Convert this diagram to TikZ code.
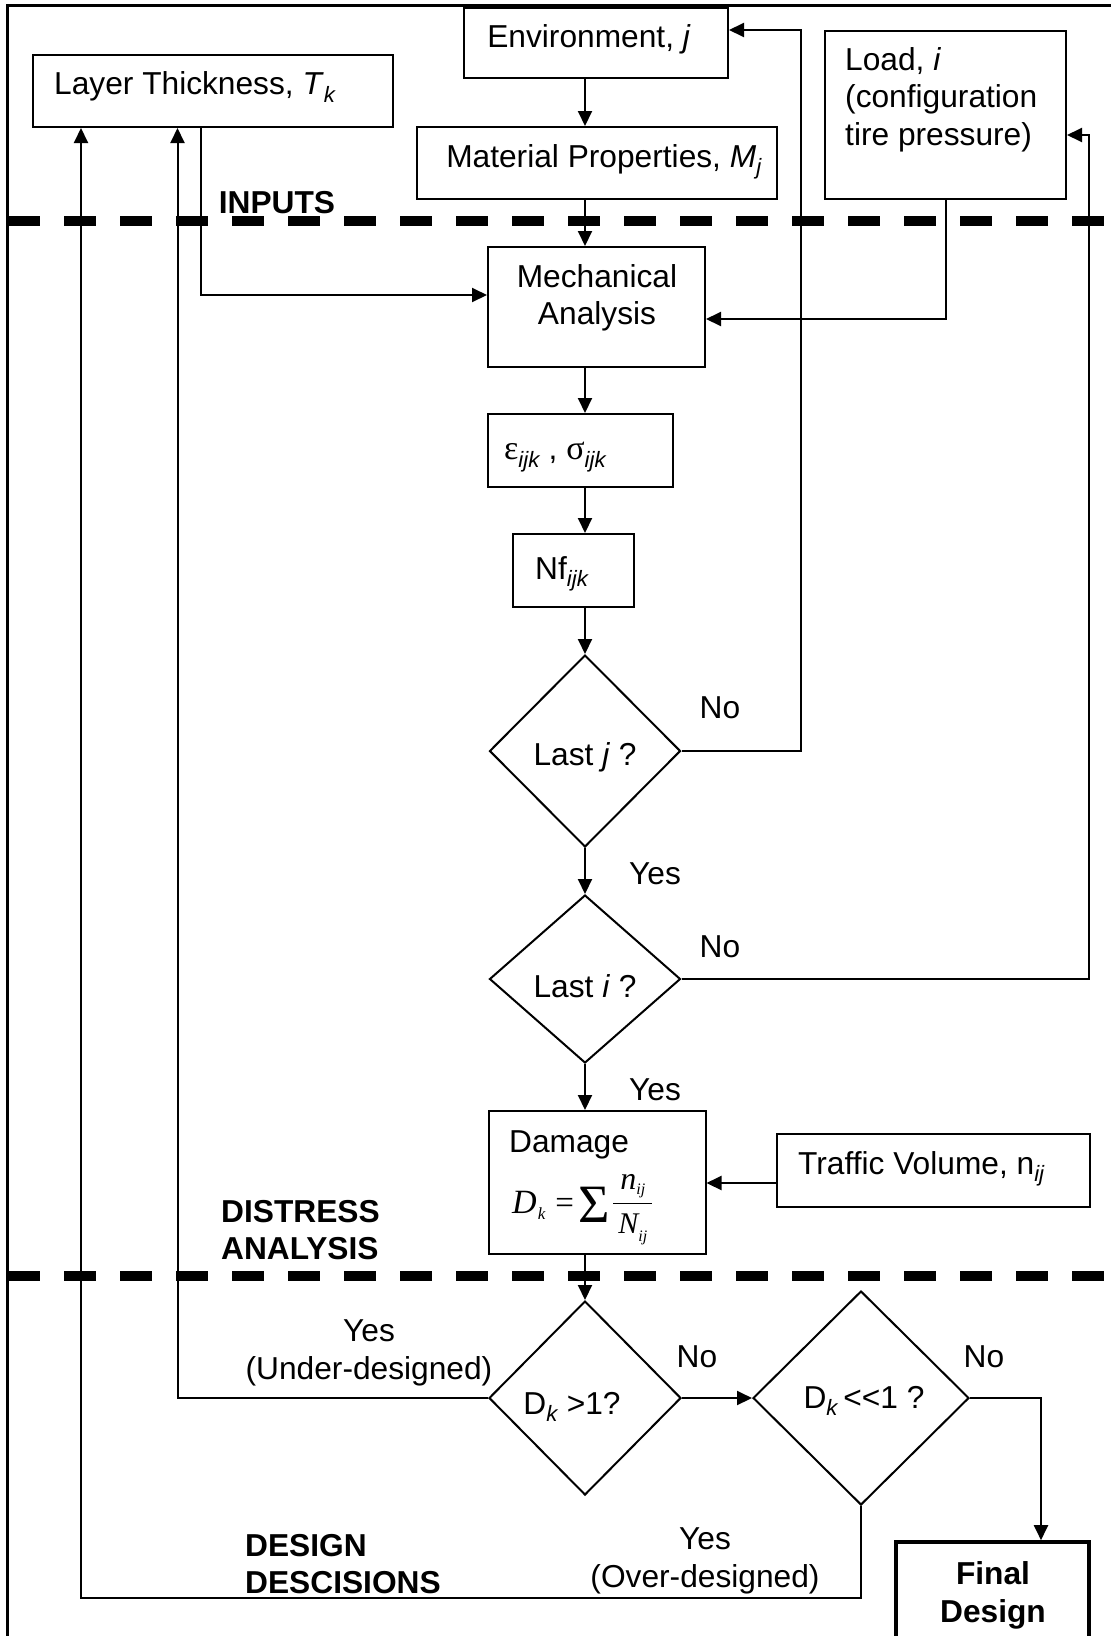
\documentclass[tikz,border=0pt]{standalone}
\usepackage{fontspec}
\setmainfont{Liberation Sans}
\newfontfamily\tnr{Liberation Serif}
\usetikzlibrary{arrows.meta,shapes.geometric}
\newcommand{\dmgfrac}[2]{\vbox{\offinterlineskip\halign{\hfil\kern5pt##\kern5pt\hfil\cr #1\cr\noalign{\kern5pt\hrule height 1.3pt\kern9pt}#2\cr}}}
\begin{document}
\begin{tikzpicture}[x=1pt,y=-1pt,
  every node/.style={font=\fontsize{31.7}{37.5}\selectfont, inner sep=0pt},
  box/.style={draw, rectangle, line width=2pt},
  dia/.style={draw, diamond, line width=2pt, inner sep=0pt},
  arr/.style={-{Triangle[length=15pt,width=14pt]}, line width=2pt},
  sepline/.style={line width=9.3pt, dash pattern=on 32pt off 24pt},
  lbl/.style={font=\fontsize{31.7}{37.5}\selectfont\bfseries, align=left},
  txt/.style={align=center}]
\useasboundingbox (0,0) rectangle (1111,1636);
\clip (0,0) rectangle (1111,1636);

% frame
\draw[line width=2.2pt] (1115,5.5) -- (7.5,5.5) -- (7.5,1640);

% boxes
\node[box, minimum width=264, minimum height=70] (env) at (596,43) {};
\node[box, minimum width=360, minimum height=72] (mat) at (597,163) {};
\node[box, minimum width=360, minimum height=72] (layer) at (213,91) {};
\node[box, minimum width=241, minimum height=168] (load) at (945.5,115) {};
\node[box, minimum width=217, minimum height=120] (mech) at (596.5,307) {};
\node[box, minimum width=185, minimum height=73] (eps) at (580.5,450.5) {};
\node[box, minimum width=121, minimum height=73] (nf) at (573,570.5) {};
\node[dia, minimum width=191, minimum height=192] (lastj) at (585,751) {};
\node[dia, minimum width=191, minimum height=168] (lasti) at (585,979) {};
\node[box, minimum width=217, minimum height=143] (damage) at (597,1182.5) {};
\node[box, minimum width=313, minimum height=73] (traffic) at (933,1170.5) {};
\node[dia, minimum width=192, minimum height=194] (dgt1) at (585,1398) {};
\node[dia, minimum width=216, minimum height=214] (dll1) at (861,1398) {};
\node[draw, rectangle, line width=3.6pt, minimum width=193, minimum height=116] (final) at (992.5,1600) {};

% texts
\node (envT) at (589,39) {Environment, \textit{j}};
\node (matT) at (604,162) {Material Properties, \textit{M}\textsubscript{\itshape j}};
\node[anchor=west] (layT) at (54,87) {Layer Thickness, \textit{T}\textsubscript{\itshape k}};
\node[anchor=north west, align=left] (loadT) at (845,47) {Load, \textit{i}\\(configuration\\tire pressure)};
\node[lbl] (inputs) at (277,203) {INPUTS};
\node[txt] (mechT) at (597,298) {Mechanical\\Analysis};
\node[anchor=west] (epsT) at (504,457) {{\tnr\fontsize{34}{34}\selectfont ε}\textsubscript{\itshape ijk} , {\tnr\fontsize{34}{34}\selectfont σ}\textsubscript{\itshape ijk}};
\node[anchor=west] (nfT) at (535,574) {Nf\textsubscript{\itshape ijk}};
\node (lastjT) at (585,757) {Last \textit{j} ?};
\node (lastiT) at (585,986) {Last \textit{i} ?};
\node (no1) at (720,708) {No};
\node (yes1) at (655,874) {Yes};
\node (no2) at (720,947) {No};
\node (yes2) at (655,1090) {Yes};
\node[anchor=west] (dmgT) at (509,1145) {Damage};
\node[anchor=base west] (dmgF) at (512,1213) {\tnr
  \hbox{\fontsize{34}{34}\selectfont\itshape D}\kern1pt\lower6pt\hbox{\fontsize{17}{17}\selectfont\itshape k}\kern10pt
  \hbox{\fontsize{33}{33}\selectfont =}\kern5pt
  \lower9pt\hbox{\fontsize{54}{54}\selectfont Σ}\kern3pt
  \lower20pt\dmgfrac{\fontsize{32}{32}\selectfont\itshape n\lower5pt\hbox{\fontsize{16}{16}\selectfont ij}}{\fontsize{30}{30}\selectfont\itshape N\lower8pt\hbox{\fontsize{16}{16}\selectfont ij}}};
\node[anchor=west] (trafT) at (798,1169) {Traffic Volume, n\textsubscript{\itshape ij}};
\node[lbl, anchor=west] (distress) at (221,1230) {DISTRESS\\ANALYSIS};
\node[txt] (yesU) at (369,1353) {Yes\\(Under-designed)};
\node (no3) at (697,1357) {No};
\node (dgt1T) at (572,1407) {D\textsubscript{\itshape k} >1?};
\node (dll1T) at (864,1401) {D\textsubscript{\itshape k}\,<\kern0pt<1 ?};
\node (no4) at (984,1357) {No};
\node[txt] (yesO) at (705,1561) {Yes\\(Over-designed)};
\node[lbl, anchor=west] (design) at (245,1564) {DESIGN\\DESCISIONS};
\node[lbl, align=center] (finalT) at (993,1595.5) {Final\\Design};

% separators
\draw[sepline] (8,221) -- (1115,221);
\draw[sepline] (8,1276) -- (1115,1276);

% helper coordinates
\coordinate (cx) at (585,0);
\coordinate (xa) at (81,0);
\coordinate (xb) at (177.5,0);
\coordinate (xc) at (200.7,0);
\coordinate (xd) at (801,0);
\coordinate (xe) at (1089,0);
\coordinate (xf) at (1041,0);
\coordinate (ya) at (0,1598);
\coordinate (yb) at (0,295);
\coordinate (yc) at (0,319);
\coordinate (yd) at (0,30);
\coordinate (ye) at (0,135);
\coordinate (yg) at (0,1183);

% main flow
\draw[arr] (env.south -| cx) -- (mat.north -| cx);
\draw[arr] (mat.south -| cx) -- (mech.north -| cx);
\draw[arr] (mech.south -| cx) -- (eps.north -| cx);
\draw[arr] (eps.south -| cx) -- (nf.north -| cx);
\draw[arr] (nf.south -| cx) -- (lastj.north);
\draw[arr] (lastj.south) -- (lasti.north);
\draw[arr] (lasti.south) -- (damage.north -| cx);
\draw[arr] (damage.south -| cx) -- (dgt1.north);
\draw[arr] (dgt1.east) -- (dll1.west);
\draw[arr] (dll1.east) -| (final.north -| xf);
\draw[arr] (traffic.west |- yg) -- (damage.east |- yg);

% inputs into mechanical analysis
\draw[arr] (layer.south -| xc) |- (mech.west |- yb);
\draw[arr] (load.south) |- (mech.east |- yc);

% loops
\draw[arr] (lastj.east) -| (xd |- yd) -- (env.east |- yd);
\draw[arr] (lasti.east) -| (xe |- ye) -- (load.east |- ye);
\draw[arr] (dgt1.west) -| (layer.south -| xb);
\draw[arr] (dll1.south) |- (xa |- ya) -- (layer.south -| xa);
\end{tikzpicture}
\end{document}
